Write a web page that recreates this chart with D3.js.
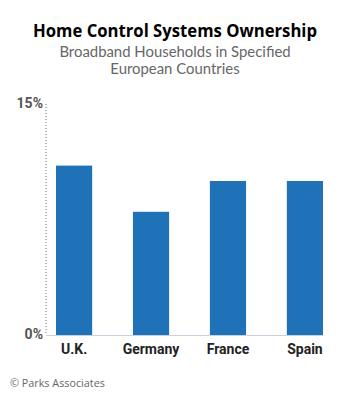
<!DOCTYPE html>
<html><head><meta charset="utf-8">
<script src="https://cdn.jsdelivr.net/npm/d3@7"></script>
<style>body{margin:0;background:#fff;}svg{display:block;}</style>
</head><body>
<script>
const categories = ["U.K.", "Germany", "France", "Spain"];
const values = [11, 8, 10, 10];
const yTicks = [0, 15];
const title = "Home Control Systems Ownership";
const subtitle = ["Broadband Households in Specified", "European Countries"];
const source = "© Parks Associates";

const W = 350, H = 401;
const svg = d3.select("body").append("svg").attr("width", W).attr("height", H);
const font = "'Open Sans', 'Noto Sans', sans-serif";
const subFont = "Lato, 'Open Sans', sans-serif";
const narrow = "'Liberation Sans Narrow', 'Roboto', sans-serif";

const x = d3.scaleBand().domain(categories).range([56, 323]).paddingInner(0.53).paddingOuter(0);
const y = d3.scaleLinear().domain([0, 15]).range([335, 104]);

svg.append("text").attr("x", 175).attr("y", 37).attr("text-anchor", "middle")
  .attr("font-family", font).attr("font-weight", "bold").attr("font-size", 18.5)
  .attr("fill", "#000").attr("textLength", 284).attr("lengthAdjust", "spacingAndGlyphs").text(title);
subtitle.forEach((s, i) => {
  svg.append("text").attr("x", 175).attr("y", 56.5 + i * 17).attr("text-anchor", "middle")
    .attr("font-family", subFont).attr("font-size", 14.9).attr("fill", "#666").text(s);
});

// y axis dotted line
svg.append("line").attr("x1", 46).attr("x2", 46).attr("y1", y(15)).attr("y2", y(0))
  .attr("stroke", "#888").attr("stroke-width", 1.2).attr("stroke-dasharray", "1,2");

// baseline
svg.append("line").attr("x1", 46).attr("x2", 323).attr("y1", y(0) + 0.5).attr("y2", y(0) + 0.5)
  .attr("stroke", "#c8d3de").attr("stroke-width", 1);

svg.selectAll("text.tick").data(yTicks).enter().append("text").attr("class", "tick")
  .attr("x", 43).attr("y", d => y(d) + 4).attr("text-anchor", "end")
  .attr("font-family", narrow).attr("font-weight", "bold").attr("font-size", 14)
  .attr("fill", "#555").text(d => d + "%");

svg.selectAll("rect.bar").data(values).enter().append("rect").attr("class", "bar")
  .attr("x", (d, i) => x(categories[i])).attr("width", x.bandwidth())
  .attr("y", d => y(d)).attr("height", d => y(0) - y(d))
  .attr("fill", "#1f72b8");

svg.selectAll("text.cat").data(categories).enter().append("text").attr("class", "cat")
  .attr("x", d => x(d) + x.bandwidth() / 2).attr("y", 354).attr("text-anchor", "middle")
  .attr("font-family", narrow).attr("font-weight", "bold").attr("font-size", 14)
  .attr("fill", "#222").text(d => d);

svg.append("text").attr("x", 10).attr("y", 387).attr("font-family", font)
  .attr("font-size", 10.8).attr("fill", "#666").text(source);
</script>
</body></html>
